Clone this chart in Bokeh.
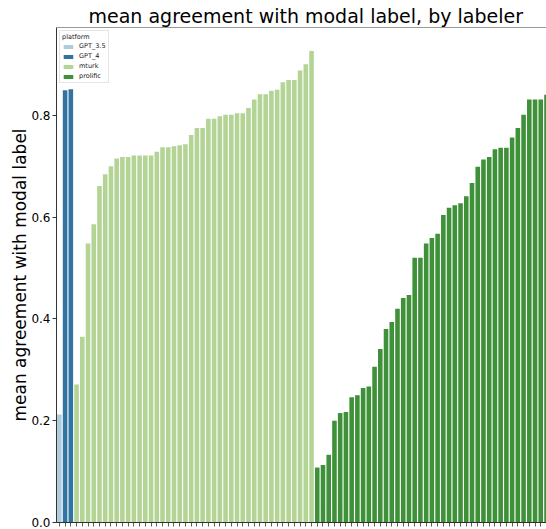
from bokeh.plotting import figure
from bokeh.models import (Range1d, FixedTicker, Legend, LegendItem, Span, ColumnDataSource,
                          PrintfTickFormatter, CustomJSTickFormatter)
from bokeh.embed import file_html
from bokeh.resources import INLINE

# ---- data ----
platforms = ["GPT_3.5", "GPT_4", "mturk", "prolific"]
gpt35_vals = [0.212]
gpt4_vals = [0.849, 0.851]
mturk_vals = [0.271, 0.365, 0.548, 0.586, 0.661, 0.684, 0.700, 0.715, 0.718, 0.718,
              0.721, 0.721, 0.721, 0.721, 0.728, 0.737, 0.737, 0.739, 0.741, 0.743,
              0.761, 0.775, 0.775, 0.793, 0.793, 0.798, 0.801, 0.801, 0.804, 0.804,
              0.814, 0.831, 0.841, 0.841, 0.848, 0.850, 0.865, 0.869, 0.869, 0.888,
              0.900, 0.926]
prolific_vals = [0.108, 0.113, 0.133, 0.200, 0.215, 0.217, 0.246, 0.250, 0.264, 0.267,
                 0.306, 0.341, 0.380, 0.394, 0.420, 0.441, 0.447, 0.520, 0.520, 0.548,
                 0.559, 0.567, 0.604, 0.618, 0.623, 0.627, 0.641, 0.667, 0.699, 0.713,
                 0.718, 0.733, 0.736, 0.736, 0.756, 0.775, 0.801, 0.831, 0.831, 0.831,
                 0.840]
y_ticks = [0.0, 0.2, 0.4, 0.6, 0.8]
colors = ["#aeccdb", "#3274a1", "#b3d495", "#3e9139"]

series = [gpt35_vals, gpt4_vals, mturk_vals, prolific_vals]
n_total = sum(len(s) for s in series)
y_top = max(max(s) for s in series) * 1.05

p = figure(width=546, height=529,
           x_range=Range1d(-0.5, 85.0), y_range=Range1d(0, y_top),
           output_backend="svg", toolbar_location=None,
           min_border_left=56, min_border_right=0, min_border_top=27, min_border_bottom=7)

p.title.text = "mean agreement with modal label, by labeler"
p.title.text_font = "DejaVu Sans"
p.title.text_font_size = "19px"
p.title.text_font_style = "normal"
p.title.text_color = "black"
p.title.align = "left"
p.title.offset = 32
p.title.standoff = 1
p.title.text_line_height = 1.0

renderers = []
start = 0
for name, vals, col in zip(platforms, series, colors):
    xs = list(range(start, start + len(vals)))
    src = ColumnDataSource(dict(x=xs, top=vals))
    r = p.vbar(x="x", top="top", width=0.8, source=src, fill_color=col, line_color=None)
    renderers.append((name, r))
    start += len(vals)

p.xgrid.visible = False
p.ygrid.visible = False
p.outline_line_color = None
p.background_fill_color = "white"

# top spine
p.add_layout(Span(location=y_top, dimension="width", line_color="black", line_width=0.8))

xa = p.xaxis[0]
xa.ticker = FixedTicker(ticks=list(range(n_total)))
xa.formatter = CustomJSTickFormatter(code="return '';")
xa.major_label_text_font_size = "6px"
xa.major_label_standoff = 0
xa.major_tick_out = 4
xa.major_tick_in = 0
xa.major_tick_line_width = 0.8
xa.major_tick_line_color = "#333333"
xa.minor_tick_line_color = None
xa.axis_line_color = "black"
xa.axis_line_width = 0.8

ya = p.yaxis[0]
ya.ticker = FixedTicker(ticks=y_ticks)
ya.formatter = PrintfTickFormatter(format="%.1f")
ya.major_label_text_font = "DejaVu Sans"
ya.major_label_text_font_size = "12px"
ya.major_label_text_color = "black"
ya.major_label_standoff = 2
ya.major_tick_out = 4
ya.major_tick_in = 0
ya.major_tick_line_width = 0.8
ya.minor_tick_line_color = None
ya.axis_line_color = "black"
ya.axis_line_width = 0.8
ya.axis_label = "mean agreement with modal label"
ya.axis_label_text_font = "DejaVu Sans"
ya.axis_label_text_font_size = "17px"
ya.axis_label_text_font_style = "normal"
ya.axis_label_text_color = "black"
ya.axis_label_standoff = -2

legend = Legend(items=[LegendItem(label=n, renderers=[r]) for n, r in renderers],
                location="top_left", title="platform")
legend.title_text_font = "DejaVu Sans"
legend.title_text_font_size = "6.5px"
legend.title_text_font_style = "normal"
legend.title_text_color = "#222222"
legend.title_standoff = 1
legend.label_text_font = "DejaVu Sans"
legend.label_text_font_size = "6.5px"
legend.label_text_color = "#222222"
legend.glyph_width = 12
legend.glyph_height = 5
legend.label_height = 8
legend.label_standoff = 5
legend.spacing = 2
legend.padding = 2
legend.margin = 3
legend.border_line_color = "#cccccc"
legend.border_line_width = 0.8
legend.background_fill_alpha = 0.8
p.add_layout(legend)

open("out.html", "w").write(file_html(p, INLINE))
